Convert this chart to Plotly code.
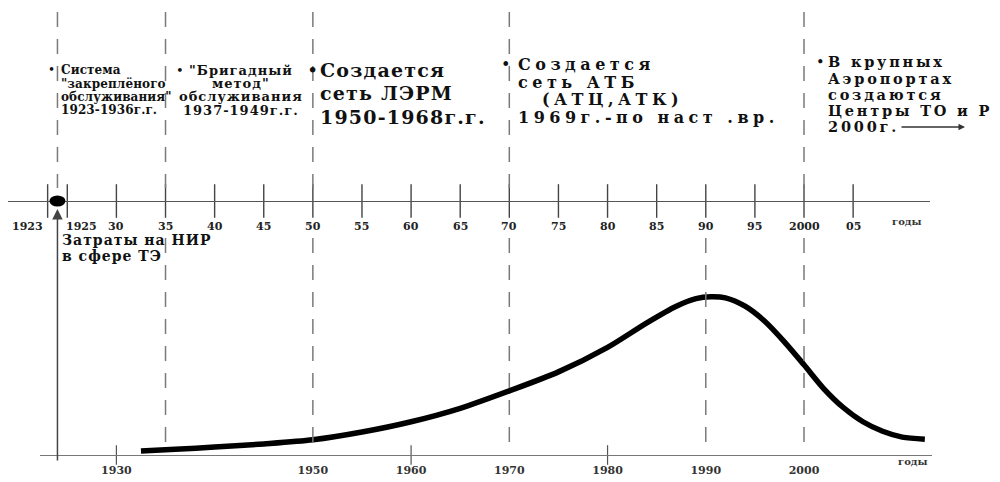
import plotly.graph_objects as go

# ---------------- data ----------------
timeline_years = [1923, 1925, 1930, 1935, 1940, 1945, 1950, 1955, 1960,
                  1965, 1970, 1975, 1980, 1985, 1990, 1995, 2000, 2005]
timeline_labels = ["1923", "1925", "30", "35", "40", "45", "50", "55", "60",
                   "65", "70", "75", "80", "85", "90", "95", "2000", "05"]
unit_label = "годы"

cost_axis_years = [1930, 1950, 1960, 1970, 1980, 1990, 2000]
cost_axis_labels = ["1930", "1950", "1960", "1970", "1980", "1990", "2000"]
cost_axis_small_ticks = [1930, 1960, 1980]

# relative R&D costs (peak = 100)
cost_years = [1932.5, 1936, 1940, 1945, 1950, 1955, 1960, 1965, 1970, 1975,
              1980, 1984, 1987, 1989, 1990.5, 1992, 1994, 1996, 1998, 2000,
              2002, 2004, 2006, 2008, 2010, 2012.3]
cost_values = [2.5, 3.6, 5.0, 7.0, 9.6, 14.5, 21.0, 29.5, 40.5, 52.5,
               68.0, 83.5, 94.0, 98.8, 100.0, 99.3, 94.0, 84.5, 71.5, 57.0,
               42.0, 30.0, 21.0, 15.0, 11.3, 10.0]

nir_start_year = 1924
nir_label = ["Затраты на НИР", "в сфере ТЭ"]

period_years_top = [1924, 1935, 1950, 1970, 2000]
period_years_bottom = [1935, 1950, 1970, 1990, 2000]
period_texts = [
    ["Система", "\"закреплёного", "обслуживания\"", "1923-1936г.г."],
    ["\"Бригадный", "метод\"", "обслуживания", "1937-1949г.г."],
    ["Создается", "сеть ЛЭРМ", "1950-1968г.г."],
    ["Создается", "сеть АТБ", "(АТЦ,АТК)", "1969г.-по наст .вр."],
    ["В крупных", "Аэропортах", "создаются", "Центры ТО и Р", "2000г."],
]

# ---------------- layout / style ----------------
W, H = 1000, 482
PX_PER_YEAR = 9.823
YEAR_AT_LEFT = 1918.15
COST_PX_PER_UNIT = 1.583
AXIS_ROW = 455
TIMELINE_ROW = 201
FONT = "DejaVu Serif"
DASH = dict(color="#7a7a7a", width=1.5, dash="15px,12px")


def yr_at_px(px):
    return YEAR_AT_LEFT + px / PX_PER_YEAR


def py(row):
    return 1 - row / H


block_styles = [
    dict(size=12, first=70, step=13.5, anchor="left", dx=1.5, sp=0.1, bdx=-5.5, indent=[0, 0, 0, 0]),
    dict(size=13, first=70, step=13.5, anchor="center", dx=75.5, sp=1.0, bdx=14.5, indent=[0, 0, 0, 0]),
    dict(size=19, first=70, step=23.5, anchor="left", dx=5, sp=1.2, bdx=0, indent=[0, 0, 0]),
    dict(size=16, first=65, step=17.4, anchor="left", dx=7, sp=4.5, bdx=-4, indent=[0, 0, 24, 0]),
    dict(size=14.5, first=62, step=16.2, anchor="left", dx=22, sp=2.8, bdx=16, indent=[0, 0, 0, 0, 0]),
]

fig = go.Figure()

fig.add_trace(go.Scatter(
    x=cost_years, y=cost_values, mode="lines",
    line=dict(color="black", width=5.5, shape="spline", smoothing=0.8),
    xaxis="x", yaxis="y", hoverinfo="skip"))

fig.add_trace(go.Scatter(
    x=cost_axis_small_ticks, y=[0] * len(cost_axis_small_ticks), mode="markers",
    marker=dict(symbol="line-ns", size=14, line=dict(width=1.2, color="#555")),
    cliponaxis=False, xaxis="x", yaxis="y", hoverinfo="skip"))

fig.add_trace(go.Scatter(
    x=timeline_years, y=[py(TIMELINE_ROW)] * len(timeline_years), mode="markers",
    marker=dict(symbol="line-ns", size=24, line=dict(width=1.4, color="#444")),
    cliponaxis=False, xaxis="x2", yaxis="y2", hoverinfo="skip"))

shapes = []
for yr in period_years_top:
    shapes.append(dict(type="line", xref="x", yref="paper", x0=yr, x1=yr,
                       y0=py(12), y1=py(188), line=DASH))
for yr in period_years_bottom:
    shapes.append(dict(type="line", xref="x", yref="paper", x0=yr, x1=yr,
                       y0=py(238), y1=py(448), line=DASH))
shapes.append(dict(type="circle", xref="x2", yref="y2", xsizemode="pixel", ysizemode="pixel",
                   xanchor=nir_start_year, yanchor=py(TIMELINE_ROW),
                   x0=-8, x1=8, y0=-5.5, y1=5.5, fillcolor="black", line=dict(width=0)))

ann = []
# arrow to the start point
ann.append(dict(xref="x", x=nir_start_year, yref="paper", y=py(209), ax=0, ay=253,
                showarrow=True, arrowhead=2, arrowsize=1.4, arrowwidth=1.5,
                arrowcolor="#444", text=""))
for i, line in enumerate(nir_label):
    ann.append(dict(xref="x", x=nir_start_year, xshift=2.5, xanchor="left",
                    yref="paper", y=py(240 + 16 * i), yanchor="middle", showarrow=False,
                    text='<span style="letter-spacing:1px">%s</span>' % line,
                    font=dict(family=FONT, size=14, color="#111", weight="bold")))

# timeline tick labels
for i, (yr, lab) in enumerate(zip(timeline_years, timeline_labels)):
    anchor, shift = ("right", -2.5) if i == 0 else (("left", -3) if i == 1 else ("center", 0))
    ann.append(dict(xref="x2", x=yr, xanchor=anchor, xshift=shift, yref="paper", y=py(226),
                    yanchor="middle", showarrow=False, text=lab,
                    font=dict(family=FONT, size=11, color="#222", weight="bold")))
ann.append(dict(xref="paper", x=924 / W, yref="paper", y=py(222), showarrow=False, text=unit_label,
                font=dict(family=FONT, size=10, color="#333", weight="bold")))
ann.append(dict(xref="paper", x=930 / W, yref="paper", y=py(469), showarrow=False, text=unit_label,
                font=dict(family=FONT, size=10, color="#333", weight="bold")))

# period descriptions
for yr, lines, st in zip(period_years_top, period_texts, block_styles):
    ann.append(dict(xref="x", x=yr, xshift=st["bdx"], xanchor="center", yref="paper",
                    y=py(st["first"]), yanchor="middle", showarrow=False, text="•",
                    font=dict(family=FONT, size=st["size"], color="#111")))
    for j, line in enumerate(lines):
        ann.append(dict(xref="x", x=yr, xshift=st["dx"] + st["indent"][j], xanchor=st["anchor"],
                        yref="paper", y=py(st["first"] + j * st["step"]), yanchor="middle",
                        showarrow=False, align=st["anchor"],
                        text='<span style="letter-spacing:%.1fpx">%s</span>' % (st["sp"], line),
                        font=dict(family=FONT, size=st["size"], color="#111", weight="bold")))
# arrow after "2000г."
ann.append(dict(xref="paper", x=965 / W, yref="paper", y=py(127), ax=-65, ay=0,
                showarrow=True, arrowhead=2, arrowsize=1, arrowwidth=1.3, arrowcolor="#333", text=""))

fig.update_layout(
    width=W, height=H, margin=dict(l=0, r=0, t=0, b=0),
    paper_bgcolor="white", plot_bgcolor="rgba(0,0,0,0)", showlegend=False,
    xaxis=dict(domain=[40 / W, 932 / W], range=[yr_at_px(40), yr_at_px(932)],
               showline=True, linecolor="#777", linewidth=1.2, ticks="",
               tickmode="array", tickvals=cost_axis_years, ticktext=cost_axis_labels,
               tickfont=dict(family=FONT, size=11, color="#333", weight="bold"),
               ticklabelstandoff=5, showgrid=False, zeroline=False),
    yaxis=dict(domain=[1 - AXIS_ROW / H, 1], range=[0, AXIS_ROW / COST_PX_PER_UNIT], visible=False),
    xaxis2=dict(domain=[8 / W, 930 / W], range=[yr_at_px(8), yr_at_px(930)], anchor="free",
                position=py(TIMELINE_ROW), showline=True, linecolor="#555", linewidth=1.2,
                ticks="", showticklabels=False, showgrid=False, zeroline=False),
    yaxis2=dict(domain=[0, 1], range=[0, 1], visible=False, anchor="x2"),
    shapes=shapes, annotations=ann,
)

fig.write_html(
    "out.html",
    config={"displayModeBar": False},
    post_script="document.body.style.margin='0';document.body.style.overflow='hidden';",
)
